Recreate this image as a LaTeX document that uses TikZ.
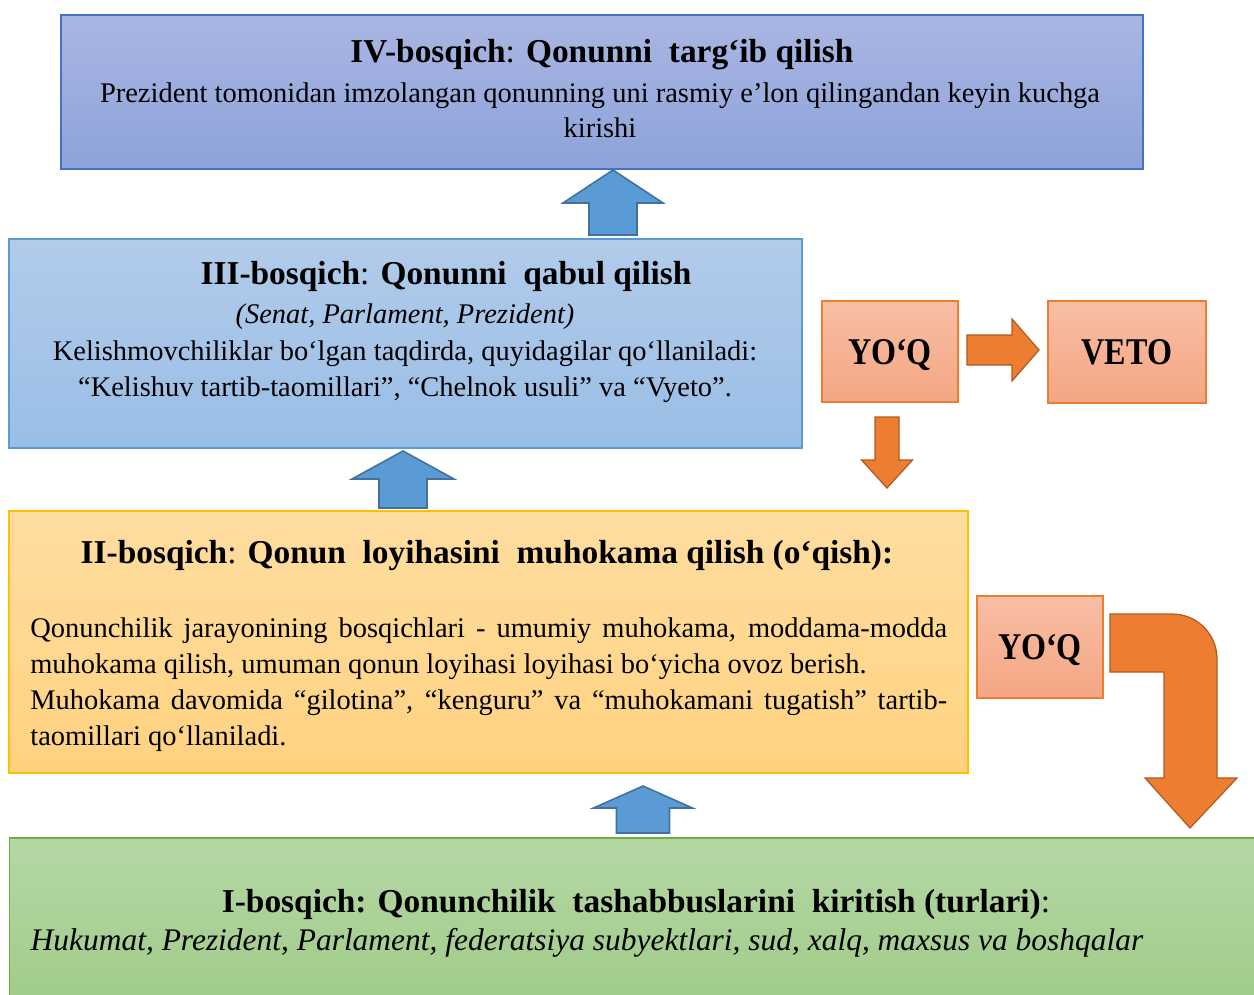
\documentclass[tikz,border=0pt]{standalone}
\usepackage{fontspec}
\setmainfont{Liberation Serif}
\newfontfamily\tallserif{Liberation Serif}[FakeStretch=0.85]
\usetikzlibrary{calc}

\definecolor{ivtop}{RGB}{170,182,226}
\definecolor{ivbot}{RGB}{141,163,218}
\definecolor{ivline}{RGB}{68,114,196}
\definecolor{iiitop}{RGB}{178,203,234}
\definecolor{iiibot}{RGB}{153,190,230}
\definecolor{iiiline}{RGB}{91,155,213}
\definecolor{iitop}{RGB}{255,221,160}
\definecolor{iibot}{RGB}{255,210,128}
\definecolor{iiline}{RGB}{255,192,0}
\definecolor{itop}{RGB}{181,215,165}
\definecolor{ibot}{RGB}{161,204,138}
\definecolor{iline}{RGB}{112,173,71}
\definecolor{notop}{RGB}{248,190,164}
\definecolor{nobot}{RGB}{244,166,131}
\definecolor{orangefill}{RGB}{237,125,49}
\definecolor{orangeline}{RGB}{174,90,33}
\definecolor{bluefill}{RGB}{91,155,213}
\definecolor{blueline}{RGB}{65,113,156}

% block arrow: style, tip x, tip y, angle, length, head width, shaft width, head length
\newcommand\blockarrow[8]{%
  \draw[#1,shift={(#2,#3)},rotate=#4] (0,0) -- (-#8,#6/2) -- (-#8,#7/2) -- (-#5,#7/2)
    -- (-#5,-#7/2) -- (-#8,-#7/2) -- (-#8,-#6/2) -- cycle;}

\tikzset{
  box/.style={draw, line width=0.7pt, inner sep=0pt},
  head/.style={font=\fontsize{19}{23}\selectfont, inner sep=0pt},
  body/.style={font=\fontsize{16.2}{20.6}\selectfont, inner sep=0pt},
  nobox/.style={box, draw=orangefill, top color=notop, bottom color=nobot,
    font=\tallserif\fontsize{21.5}{24}\selectfont\bfseries, text depth=0pt},
  bluearrow/.style={fill=bluefill, draw=blueline, line width=0.9pt, line join=miter},
  orangearrow/.style={fill=orangefill, draw=orangeline, line width=0.7pt, line join=miter}
}

\begin{document}
\begin{tikzpicture}[x=0.02cm, y=-0.02cm]
  \useasboundingbox (0,0) rectangle (1254,994);

  % stage boxes
  \node[box, draw=ivline, top color=ivtop, bottom color=ivbot,
    minimum width=21.64cm, minimum height=3.08cm] (iv) at (602,92) {};
  \node[box, draw=iiiline, top color=iiitop, bottom color=iiibot,
    minimum width=15.86cm, minimum height=4.18cm] (iii) at (405.5,343.5) {};
  \node[box, draw=iiline, top color=iitop, bottom color=iibot,
    minimum width=19.18cm, minimum height=5.24cm] (ii) at (488.5,642) {};
  \node[box, draw=iline, top color=itop, bottom color=ibot,
    minimum width=24.98cm, minimum height=3.16cm] (i) at (633.5,917) {};

  % side boxes
  \node[nobox, minimum width=2.72cm, minimum height=2.02cm] (no-a) at (890,351.5) {YO‘Q};
  \node[nobox, minimum width=3.16cm, minimum height=2.04cm] (veto) at (1127,352) {VETO};
  \node[nobox, minimum width=2.52cm, minimum height=2.04cm] (no-b) at (1040,647) {YO‘Q};

  % texts
  \node[head, anchor=base] (iv-head) at (602,62)
    {\textbf{IV-bosqich}: \textbf{Qonunni\ \ targ‘ib qilish}};
  \node[body, anchor=base] (iv-line-a) at (600,102)
    {Prezident tomonidan imzolangan qonunning uni rasmiy e’lon qilingandan keyin kuchga};
  \node[body, anchor=base] (iv-line-b) at (600,137) {kirishi};

  \node[head, anchor=base] (iii-head) at (446,284)
    {\textbf{III-bosqich}: \textbf{Qonunni\ \ qabul qilish}};
  \node[body, anchor=base] (iii-line-a) at (405,323) {\itshape (Senat, Parlament, Prezident)};
  \node[body, anchor=base] (iii-line-b) at (405,360)
    {Kelishmovchiliklar bo‘lgan taqdirda, quyidagilar qo‘llaniladi:};
  \node[body, anchor=base] (iii-line-c) at (405,396)
    {“Kelishuv tartib-taomillari”, “Chelnok usuli” va “Vyeto”.};

  \node[head, anchor=base] (ii-head) at (487,563)
    {\textbf{II-bosqich}: \textbf{Qonun\ \ loyihasini\ \ muhokama qilish (o‘qish):}};
  \node[body, anchor=north west, text width=18.34cm, align=justify] (ii-text) at (30,617)
    {\hyphenpenalty=10000 Qonunchilik jarayonining bosqichlari - umumiy muhokama, moddama-modda\linebreak
     muhokama qilish, umuman qonun loyihasi loyihasi bo‘yicha ovoz berish.\\
     Muhokama davomida “gilotina”, “kenguru” va “muhokamani tugatish” tartib-\linebreak
     taomillari qo‘llaniladi.};

  \node[head, anchor=base] (i-head) at (636,912)
    {\textbf{I-bosqich: Qonunchilik\ \ tashabbuslarini\ \ kiritish (turlari)}:};
  \node[body, anchor=base, font=\fontsize{17.9}{21}\selectfont\itshape] (i-line) at (587,950)
    {Hukumat, Prezident, Parlament, federatsiya subyektlari, sud, xalq, maxsus va boshqalar};

  % arrows
  \blockarrow{bluearrow}{613}{170}{90}{65}{100}{48}{33}
  \blockarrow{bluearrow}{403}{451}{90}{57}{102}{48}{28}
  \blockarrow{bluearrow}{643}{786}{90}{47}{99}{53}{22}
  \blockarrow{orangearrow}{1039}{350}{0}{72}{62}{30}{27}
  \blockarrow{orangearrow}{887}{488}{-90}{71}{51}{24}{28}
  \draw[orangearrow] (1110,614) -- (1172,614) .. controls (1197,614) and (1217,634) .. (1217,659)
    -- (1217,778) -- (1237,778) -- (1190,828) -- (1145,778) -- (1164,778) -- (1164,672)
    -- (1110,672) -- cycle;
\end{tikzpicture}
\end{document}
